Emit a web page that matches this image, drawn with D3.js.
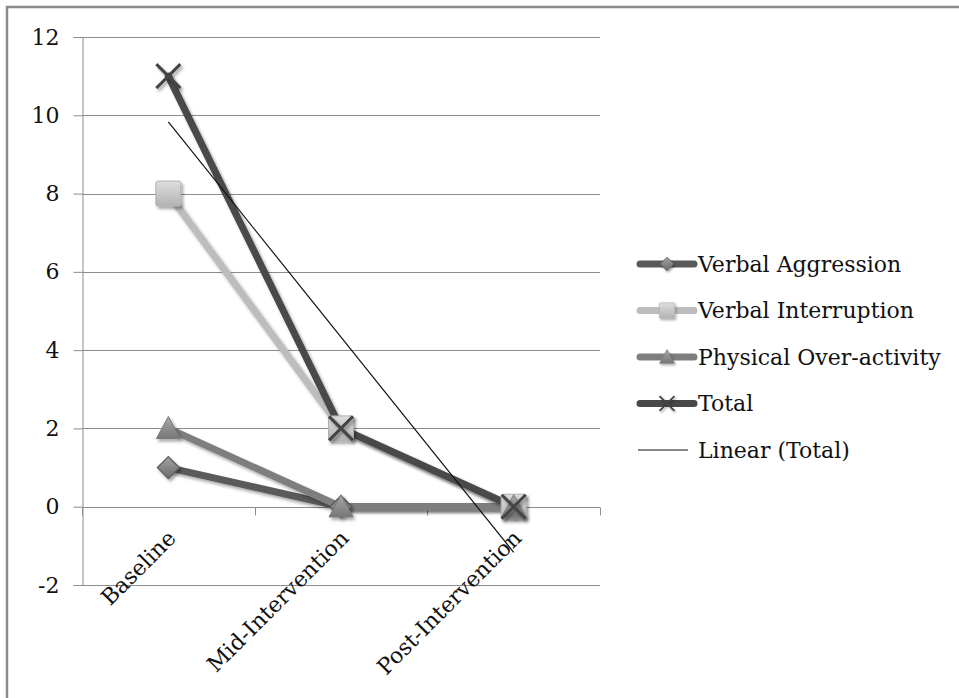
<!DOCTYPE html>
<html>
<head>
<meta charset="utf-8">
<script src="https://cdn.jsdelivr.net/npm/d3@7"></script>
<style>
  html, body { margin: 0; padding: 0; background: #fff; }
  svg { display: block; }
  text { font-family: "DejaVu Serif", "Liberation Serif", serif; fill: #111; }
</style>
</head>
<body>
<svg id="chart" width="959" height="698"></svg>
<script>
// Phases of the intervention
const categories = ["Baseline", "Mid-Intervention", "Post-Intervention"];

// Observed behaviour counts per phase
const verbalAggression = [1, 0, 0];
const verbalInterruption = [8, 2, 0];
const physicalOveractivity = [2, 0, 0];
const total = [11, 2, 0];

const yTicks = [-2, 0, 2, 4, 6, 8, 10, 12];

const series = [
  { name: "Verbal Aggression", values: verbalAggression, color: "#5a5a5a", marker: "diamond" },
  { name: "Verbal Interruption", values: verbalInterruption, color: "#bdbdbd", marker: "square" },
  { name: "Physical Over-activity", values: physicalOveractivity, color: "#7e7e7e", marker: "triangle" },
  { name: "Total", values: total, color: "#484848", marker: "cross" }
];

// Least-squares trend of the Total series over category positions 1..n
function linearFit(vals) {
  const xs = vals.map((_, i) => i + 1);
  const mx = d3.mean(xs), my = d3.mean(vals);
  const b = d3.sum(xs.map((x, i) => (x - mx) * (vals[i] - my))) / d3.sum(xs.map(x => (x - mx) ** 2));
  const a = my - b * mx;
  return xs.map(x => a + b * x);
}
const trend = linearFit(total);

const svg = d3.select("#chart");
const defs = svg.append("defs");

const shadow = defs.append("filter").attr("id", "shadow")
  .attr("x", "-50%").attr("y", "-50%").attr("width", "200%").attr("height", "200%");
shadow.append("feDropShadow").attr("dx", 2).attr("dy", 2.5).attr("stdDeviation", 1.6)
  .attr("flood-color", "#000").attr("flood-opacity", 0.35);

function gradient(id, top, bottom) {
  const g = defs.append("linearGradient").attr("id", id)
    .attr("x1", 0).attr("y1", 0).attr("x2", 0).attr("y2", 1);
  g.append("stop").attr("offset", "0%").attr("stop-color", top);
  g.append("stop").attr("offset", "100%").attr("stop-color", bottom);
}
gradient("g-diamond", "#a3a3a3", "#6b6b6b");
gradient("g-square", "#dedede", "#b3b3b3");
gradient("g-triangle", "#a8a8a8", "#767676");

// Outer frame
svg.append("rect").attr("x", 7).attr("y", 7).attr("width", 970).attr("height", 720)
  .attr("fill", "none").attr("stroke", "#8a8a8a").attr("stroke-width", 2.5);

const plot = { left: 82, right: 600, top: 37, bottom: 585 };

const x = d3.scaleBand().domain(categories).range([plot.left, plot.right]);
const cx = c => x(c) + x.bandwidth() / 2;
const y = d3.scaleLinear().domain([-2, 12]).range([plot.bottom, plot.top]);

// Horizontal gridlines
svg.append("g").selectAll("line").data(yTicks).join("line")
  .attr("x1", plot.left).attr("x2", plot.right)
  .attr("y1", d => Math.round(y(d)) + 0.5).attr("y2", d => Math.round(y(d)) + 0.5)
  .attr("stroke", "#8c8c8c").attr("stroke-width", 1);

// Value axis (plain hyphen for negatives)
const yAxis = svg.append("g").attr("transform", `translate(${plot.left + 0.5},0)`)
  .call(d3.axisLeft(y).tickValues(yTicks).tickSize(9).tickPadding(14).tickFormat(d => String(d)));
yAxis.select(".domain").attr("stroke", "#8c8c8c");
yAxis.selectAll(".tick line").attr("stroke", "#8c8c8c");
yAxis.selectAll(".tick text").attr("font-size", 22).attr("font-family", "DejaVu Serif").attr("fill", "#111");

// Category axis crossing at zero
const xAxis = svg.append("g").attr("transform", `translate(0,${Math.round(y(0)) + 0.5})`);
xAxis.append("line").attr("x1", plot.left).attr("x2", plot.right).attr("stroke", "#8c8c8c");
xAxis.selectAll("line.tk").data(d3.range(categories.length + 1)).join("line").attr("class", "tk")
  .attr("x1", i => Math.round(plot.left + i * x.bandwidth()) + 0.5)
  .attr("x2", i => Math.round(plot.left + i * x.bandwidth()) + 0.5)
  .attr("y1", 0).attr("y2", 8).attr("stroke", "#8c8c8c");
xAxis.selectAll("text").data(categories).join("text")
  .attr("transform", d => `translate(${cx(d) + 9},${32}) rotate(-45)`)
  .attr("text-anchor", "end").attr("font-size", 22).text(d => d);

// Series lines
const line = d3.line().x((d, i) => cx(categories[i])).y(d => y(d));
const lineG = svg.append("g");
series.forEach(s => {
  lineG.append("path").datum(s.values).attr("d", line)
    .attr("fill", "none").attr("stroke", s.color).attr("stroke-width", 7)
    .attr("stroke-linejoin", "round").attr("stroke-linecap", "round")
    .attr("filter", "url(#shadow)");
});

function drawMarker(g, kind, px, py) {
  if (kind === "diamond") {
    const r = 11;
    g.append("path").attr("d", `M${px},${py - r}L${px + r},${py}L${px},${py + r}L${px - r},${py}Z`)
      .attr("fill", "url(#g-diamond)").attr("stroke", "#5a5a5a").attr("stroke-width", 1.2)
      .attr("filter", "url(#shadow)");
  } else if (kind === "square") {
    const r = 12.5;
    g.append("rect").attr("x", px - r).attr("y", py - r).attr("width", 2 * r).attr("height", 2 * r)
      .attr("rx", 2).attr("fill", "url(#g-square)").attr("stroke", "#b0b0b0").attr("stroke-width", 1)
      .attr("filter", "url(#shadow)");
  } else if (kind === "triangle") {
    const r = 12;
    g.append("path").attr("d", `M${px},${py - r}L${px + r},${py + r * 0.85}L${px - r},${py + r * 0.85}Z`)
      .attr("fill", "url(#g-triangle)").attr("stroke", "#7a7a7a").attr("stroke-width", 1)
      .attr("stroke-linejoin", "round").attr("filter", "url(#shadow)");
  } else if (kind === "cross") {
    const r = 12;
    g.append("path").attr("d", `M${px - r},${py - r}L${px + r},${py + r}M${px + r},${py - r}L${px - r},${py + r}`)
      .attr("stroke", "#444").attr("stroke-width", 3).attr("fill", "none")
      .attr("filter", "url(#shadow)");
  }
}

// Markers, drawn series by series
series.forEach(s => {
  const g = svg.append("g");
  s.values.forEach((v, i) => drawMarker(g, s.marker, cx(categories[i]), y(v)));
});

// Trendline for Total
svg.append("line")
  .attr("x1", cx(categories[0])).attr("y1", y(trend[0]))
  .attr("x2", cx(categories[categories.length - 1])).attr("y2", y(trend[trend.length - 1]))
  .attr("stroke", "#111").attr("stroke-width", 1.2);

// Legend
const legend = svg.append("g");
const legendItems = series.map(s => ({ ...s })).concat([{ name: "Linear (Total)", trend: true }]);
legendItems.forEach((s, i) => {
  const ly = 264 + i * 46.5;
  const g = legend.append("g");
  if (s.trend) {
    g.append("line").attr("x1", 638).attr("x2", 688).attr("y1", ly).attr("y2", ly)
      .attr("stroke", "#111").attr("stroke-width", 1.2);
  } else {
    g.append("line").attr("x1", 640).attr("x2", 694).attr("y1", ly).attr("y2", ly)
      .attr("stroke", s.color).attr("stroke-width", 7).attr("stroke-linecap", "round");
    const mg = g.append("g").attr("transform", `translate(${667},${ly}) scale(0.62) translate(${-667},${-ly})`);
    drawMarker(mg, s.marker, 667, ly);
  }
  g.append("text").attr("x", 698).attr("y", ly + 7.5).attr("font-size", 22).text(s.name);
});
</script>
</body>
</html>
